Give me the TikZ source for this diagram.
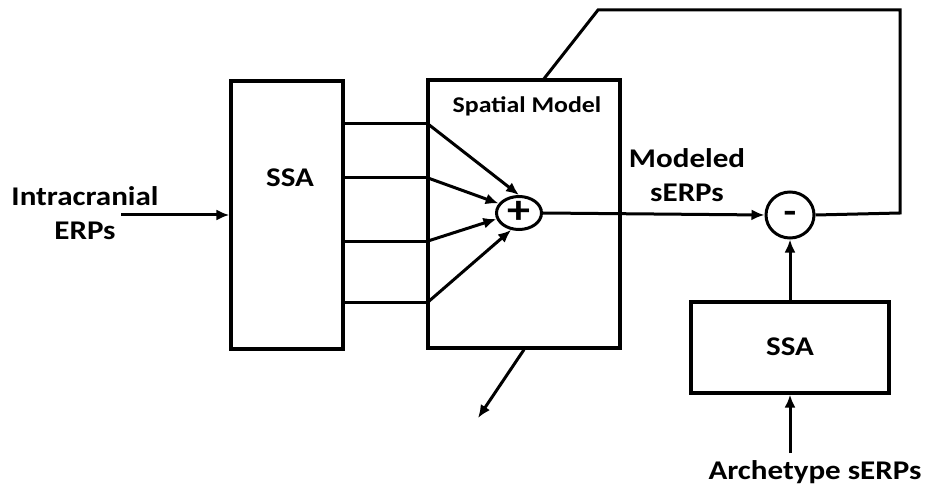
\documentclass[tikz,border=0pt]{standalone}
\usepackage{fontspec}
\setmainfont{Carlito}[FakeStretch=1.15]
\usetikzlibrary{arrows.meta,shapes.geometric}
\begin{document}
\begin{tikzpicture}[x=1pt,y=-1pt,
  box/.style={draw,line width=3.2pt,rectangle,inner sep=0pt},
  lbl/.style={font=\fontsize{27}{34}\selectfont\bfseries,align=center,inner sep=0pt},
  conn/.style={line width=3pt},
  arr/.style={line width=3pt,-{Latex[length=13pt,width=11pt]}}]
\useasboundingbox (0,0) rectangle (925,486);
% boxes
\node[box,minimum width=112pt,minimum height=268pt] (ssa1) at (287,215) {};
\node[lbl] (ssa1t) at (290,178) {SSA};
\node[box,minimum width=192pt,minimum height=268pt] (spat) at (524,214) {};
\node[lbl,font=\fontsize{22.5}{26}\selectfont\bfseries] (spatt) at (527,106) {Spatial Model};
\node[draw,line width=3pt,ellipse,minimum width=45pt,minimum height=33pt,inner sep=0pt] (plus) at (519,213) {};
\node[font=\fontsize{40}{40}\selectfont\bfseries,inner sep=0pt] (plust) at (519,212) {+};
\node[draw,line width=3pt,ellipse,minimum width=48pt,minimum height=46pt,inner sep=0pt] (minus) at (790,215) {};
\node[font=\fontsize{36}{36}\selectfont\bfseries,inner sep=0pt] (minust) at (790,217) {-};
\node[box,minimum width=198pt,minimum height=91pt] (ssa2) at (790,347.5) {};
\node[lbl] (ssa2t) at (790,347) {SSA};
% labels
\node[lbl] (intra) at (85,213) {Intracranial\\ERPs};
\node[lbl] (model) at (687,175) {Modeled\\sERPs};
\node[lbl] (arch) at (815,472) {Archetype sERPs};
% coordinates
\coordinate (instart) at (121,215);
\coordinate (o1) at (343,124); \coordinate (j1) at (428,124);
\coordinate (o2) at (343,178); \coordinate (j2) at (428,178);
\coordinate (o3) at (343,241); \coordinate (j3) at (428,241);
\coordinate (o4) at (343,302); \coordinate (j4) at (428,302);
\coordinate (fb1) at (900,213);
\coordinate (fb2) at (900,10);
\coordinate (fb3) at (598,10);
\coordinate (fb4) at (543,80);
\coordinate (adj) at (478,418);
\coordinate (archtop) at (790,453);
% connectors
\draw[arr] (instart) -- (ssa1.west);
\draw[conn] (o1) -- (j1); \draw[arr] (j1) -- (plus.north);
\draw[conn] (o2) -- (j2); \draw[arr] (j2) -- (plus.155);
\draw[conn] (o3) -- (j3); \draw[arr] (j3) -- (plus.195);
\draw[conn] (o4) -- (j4); \draw[arr] (j4) -- (plus.245);
\draw[arr] (plus.east) -- (minus.west);
\draw[conn,line join=miter] (minus.east) -- (fb1) -- (fb2) -- (fb3) -- (fb4);
\draw[arr] (spat.south) -- (adj);
\draw[arr] (ssa2.north) -- (minus.south);
\draw[arr] (archtop) -- (ssa2.south);
\end{tikzpicture}
\end{document}
